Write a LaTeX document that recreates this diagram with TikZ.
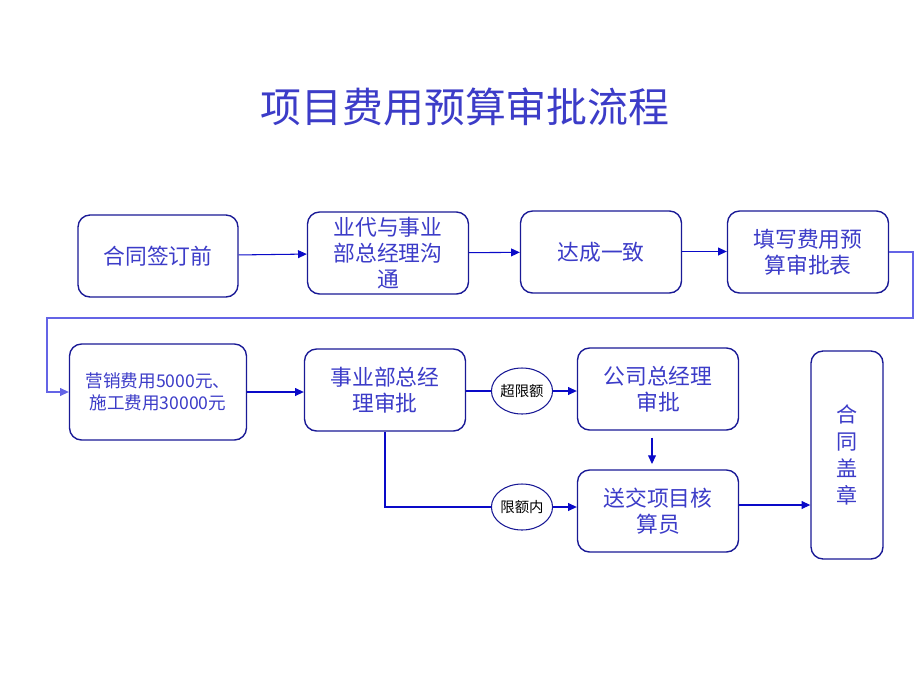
\documentclass[tikz,border=0pt]{standalone}
\usepackage{fontspec}
\setmainfont{Noto Sans CJK SC}
\usetikzlibrary{arrows.meta,shapes.geometric}
\definecolor{boxline}{RGB}{26,26,150}
\definecolor{boxtext}{RGB}{60,60,200}
\definecolor{flowline}{RGB}{10,10,200}
\definecolor{backline}{RGB}{100,100,230}
\tikzset{
  stepbox/.style={draw=boxline,line width=0.8pt,rounded corners=0.24cm,text=boxtext,
    align=center,font=\fontsize{12.4}{14.8}\selectfont,inner sep=1pt,
    minimum width=3.22cm,minimum height=1.64cm},
  limitnode/.style={ellipse,draw=boxline,line width=0.6pt,fill=white,inner sep=0pt,
    minimum width=1.12cm,minimum height=0.92cm,font=\fontsize{8.2}{9}\selectfont},
  flow/.style={draw=flowline,line width=0.6pt,-{Triangle[length=5pt,width=4.5pt]}},
  plainflow/.style={draw=flowline,line width=0.6pt}
}
\begin{document}
\begin{tikzpicture}[x=0.02cm,y=-0.02cm]
\useasboundingbox[fill=white] (0,0) rectangle (920,690);
\node[text=boxtext,font=\fontsize{23.3}{26}\selectfont] (title) at (465,107) {项目费用预算审批流程};

\node[stepbox,minimum width=3.2cm] (sign) at (158,256) {合同签订前};
\node[stepbox] (talk) at (388,253) {业代与事业\\部总经理沟\\通};
\node[stepbox] (agree) at (601,252) {达成一致};
\node[stepbox] (form) at (808,252) {填写费用预\\算审批表};

\node[stepbox,minimum width=3.54cm,minimum height=1.92cm,font=\fontsize{10}{12.5}\selectfont] (cost) at (158,392) {营销费用5000元、\\施工费用30000元};
\node[stepbox] (dept) at (385,390) {事业部总经\\理审批};
\node[stepbox] (ceo) at (658,389) {公司总经理\\审批};
\node[stepbox] (acct) at (658,511) {送交项目核\\算员};
\node[stepbox,minimum width=1.44cm,minimum height=4.16cm,font=\fontsize{12}{15.4}\selectfont] (seal) at (847,455) {合\\同\\盖\\章};

\node[limitnode] (over) at (522,391) {超限额};
\node[limitnode] (within) at (522,507) {限额内};

\coordinate (turnR) at (913,318);
\coordinate (turnL) at (47,318);

\draw[flow] (sign) -- (talk);
\draw[flow] (talk) -- (agree);
\draw[flow] ([yshift=0.01cm]agree.east) -- ([yshift=0.01cm]form.west);
\draw[flow,draw=backline] (form.east) -| (turnR) -- (turnL) |- (cost.west);
\draw[flow] (cost) -- (dept.west |- cost.east);
\draw[plainflow] (dept.east |- over.west) -- (over.west);
\draw[flow] (over.east) -- (ceo.west |- over.east);
\draw[plainflow] (dept.south) |- (within.west);
\draw[flow] (within.east) -- (acct.west |- within.east);
\draw[flow,shorten <=4pt,shorten >=3pt] ([xshift=-0.12cm]ceo.south) -- ([xshift=-0.12cm]acct.north);
\draw[flow] ([yshift=0.12cm]acct.east) -- ([yshift=0.12cm]acct.east -| seal.west);
\end{tikzpicture}
\end{document}
